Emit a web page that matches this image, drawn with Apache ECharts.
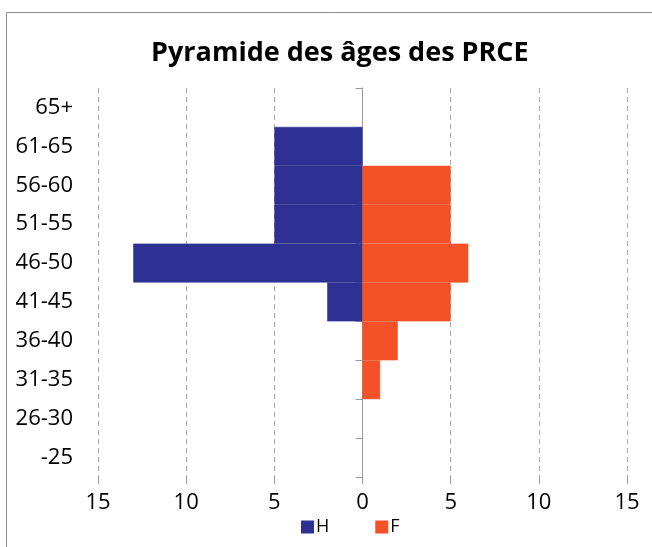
<!DOCTYPE html>
<html lang="fr">
<head>
    <meta charset="UTF-8">
    <title>Pyramide des âges des PRCE</title>
    <style>
        html, body { margin: 0; padding: 0; background: #fff; }
        #chart { width: 652px; height: 547px; }
    </style>
</head>
<body>
    <div id="chart"></div>
    <script src="https://cdn.jsdelivr.net/npm/echarts@6.0.0/dist/echarts.min.js"></script>
    <script>
        // tranches d'âge, de bas en haut
        const ageGroups = ['-25', '26-30', '31-35', '36-40', '41-45', '46-50', '51-55', '56-60', '61-65', '65+'];
        const hommes = [0, 0, 0, 0, 2, 13, 5, 5, 5, 0];
        const femmes = [0, 0, 1, 2, 5, 6, 5, 5, 0, 0];

        const font = 'Open Sans';
        const chart = echarts.init(document.getElementById('chart'));

        // les effectifs nuls ne sont pas dessinés (évite un trait de bordure)
        const bars = (arr, sign) => arr.map(v => v === 0 ? '-' : sign * v);

        chart.setOption({
            animation: false,
            textStyle: { fontFamily: font },
            title: {
                text: 'Pyramide des âges des PRCE',
                left: 146,
                top: 35,
                textStyle: { fontFamily: font, fontSize: 27, fontWeight: 'bold', color: '#000' }
            },
            graphic: [{
                type: 'rect',
                shape: { x: 6.5, y: 12.5, width: 700, height: 600 },
                style: { fill: 'none', stroke: '#8c8c8c', lineWidth: 1 },
                silent: true
            }],
            legend: {
                data: ['H', 'F'],
                bottom: 6,
                left: 296,
                icon: 'rect',
                itemWidth: 11,
                itemHeight: 11,
                itemGap: 46,
                textStyle: { fontFamily: font, fontSize: 18, color: '#000', padding: [0, 0, 0, -2] }
            },
            grid: { left: 98, right: 25, top: 88, bottom: 70 },
            xAxis: {
                type: 'value',
                min: -15,
                max: 15,
                interval: 5,
                axisLine: { onZero: false, lineStyle: { color: '#999' } },
                axisTick: { show: true, length: 7, lineStyle: { color: '#999' } },
                axisLabel: {
                    fontFamily: font,
                    fontSize: 22,
                    color: '#000',
                    margin: 15,
                    formatter: v => Math.abs(v)
                },
                splitLine: { show: true, lineStyle: { type: [5, 4], color: '#aaa' } }
            },
            yAxis: [{
                // étiquettes seules, à gauche
                type: 'category',
                data: ageGroups,
                position: 'left',
                axisLine: { show: false, onZero: false },
                axisTick: { show: false },
                axisLabel: { fontFamily: font, fontSize: 22, color: '#000', margin: 25 }
            }, {
                // axe central sur le zéro
                type: 'category',
                data: ageGroups,
                position: 'left',
                axisLine: { show: true, onZero: true, lineStyle: { color: '#999' } },
                axisTick: { show: true, length: 7, lineStyle: { color: '#999' } },
                axisLabel: { show: false }
            }],
            series: [{
                name: 'H',
                type: 'bar',
                stack: 'pyramide',
                barCategoryGap: '0%',
                yAxisIndex: 0,
                itemStyle: { color: '#2E3192', borderColor: '#2E3192', borderWidth: 0.6 },
                data: bars(hommes, -1)
            }, {
                name: 'F',
                type: 'bar',
                stack: 'pyramide',
                barCategoryGap: '0%',
                yAxisIndex: 0,
                itemStyle: { color: '#F35127', borderColor: '#F35127', borderWidth: 0.6 },
                data: bars(femmes, 1)
            }]
        });
    </script>
</body>
</html>
